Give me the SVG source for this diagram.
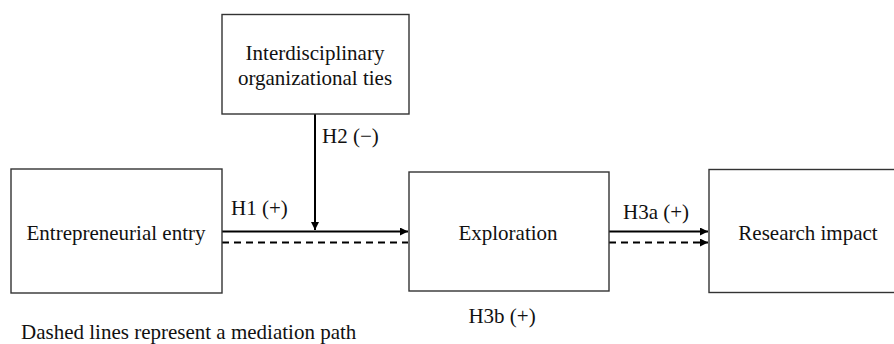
<svg xmlns="http://www.w3.org/2000/svg" width="894" height="344" viewBox="0 0 894 344">
<style>
.box{fill:#fff;stroke:#333;stroke-width:1.4}
.t{font-family:"Liberation Serif","Times New Roman",serif;font-size:21px;fill:#111}
.m{text-anchor:middle}
.ln{stroke:#000;stroke-width:2;fill:none}
.dash{stroke-dasharray:7 5}
</style>
<defs>
<marker id="ah" viewBox="0 0 10 10" refX="10" refY="5" markerWidth="10" markerHeight="8" markerUnits="userSpaceOnUse" orient="auto">
<path d="M0,0 L10,5 L0,10 z" fill="#000"/>
</marker>
</defs>
<rect width="894" height="344" fill="#fff"/>
<g id="connectors">
<line class="ln" x1="315" y1="114" x2="315" y2="230" marker-end="url(#ah)"/>
<line class="ln" x1="222" y1="231.5" x2="408" y2="231.5" marker-end="url(#ah)"/>
<line class="ln dash" x1="222" y1="242.5" x2="408" y2="242.5"/>
<line class="ln" x1="609" y1="231.5" x2="708" y2="231.5" marker-end="url(#ah)"/>
<line class="ln dash" x1="609" y1="242.5" x2="708" y2="242.5" marker-end="url(#ah)"/>
<text class="t" x="322" y="143">H2 (−)</text>
<text class="t" x="231" y="215">H1 (+)</text>
<text class="t" x="623" y="219">H3a (+)</text>
<text class="t m" x="502" y="323">H3b (+)</text>
</g>
<g id="node-ties">
<rect class="box" x="222" y="14.5" width="187" height="99.5"/>
<text class="t m" x="315" y="60">Interdisciplinary</text>
<text class="t m" x="315" y="85">organizational ties</text>
</g>
<g id="node-entry">
<rect class="box" x="11" y="169" width="211" height="124"/>
<text class="t m" x="116" y="240">Entrepreneurial entry</text>
</g>
<g id="node-exploration">
<rect class="box" x="409" y="172" width="200" height="119"/>
<text class="t m" x="508" y="240">Exploration</text>
</g>
<g id="node-impact">
<rect class="box" x="709" y="169.5" width="190" height="123"/>
<text class="t m" x="808" y="240">Research impact</text>
</g>
<text class="t" x="21" y="339">Dashed lines represent a mediation path</text>
</svg>
